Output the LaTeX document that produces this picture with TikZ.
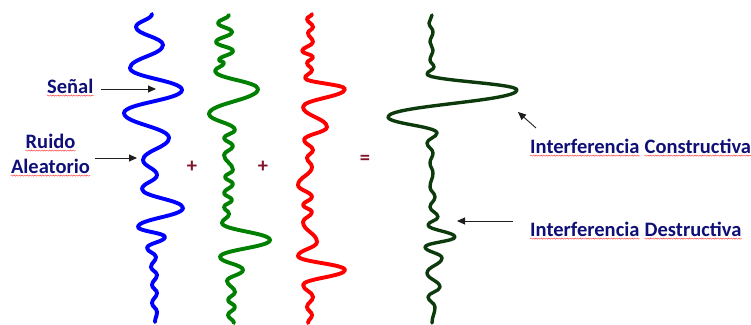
\documentclass[tikz,border=0pt]{standalone}
\usepackage{fontspec}
\setmainfont{Carlito}
\usetikzlibrary{arrows.meta,decorations.pathmorphing}
\definecolor{wblue}{RGB}{0,0,255}
\definecolor{wgreen}{RGB}{0,128,0}
\definecolor{wred}{RGB}{255,0,0}
\definecolor{wdark}{RGB}{12,58,12}
\definecolor{navy}{RGB}{15,15,120}
\definecolor{opcol}{RGB}{130,20,40}
\definecolor{arrcol}{RGB}{30,30,30}
\def\kk{0.42}
\begin{document}
\begin{tikzpicture}[x=1pt,y=-1pt,
  wave/.style={line width=3.9pt, line cap=round, line join=round},
  lbl/.style={font=\fontsize{20.5}{24}\selectfont\bfseries, text=navy, inner sep=0pt},
  op/.style={font=\fontsize{20.5}{24}\selectfont\bfseries, text=opcol, inner sep=0pt},
  arr/.style={draw=arrcol, line width=0.9pt, -{Triangle[length=8pt,width=7pt]}},
  squig/.style={draw=red!75, line width=0.45pt, decorate, decoration={snake, amplitude=0.6pt, segment length=2.6pt}}]
\useasboundingbox (0,0) rectangle (751,324);

% blue wave (signal + noise)
\draw[wave,wblue] (152,14) \foreach \x/\y [remember=\y as \py (initially 14)] in
 {136/27,163/45,130/68,182/90,124/113,169/138,143/160,157/175,142/189,183/208,138/227,165/237,147/248,156/257,151/267,157/275,152/285,157/293,152/303,157/312,155/322}
 { .. controls +(0,{\kk*(\y-\py)}) and +(0,{-\kk*(\y-\py)}) .. (\x,\y) };

% green wave
\draw[wave,wgreen] (229,15) \foreach \x/\y [remember=\y as \py (initially 15)] in
 {218/23,232/32,216/42,233/51,219/60,224/63,215/71,258/89,209/114,235/130,224/138,233/146,224/155,233/170,225/177,233/184,224/193,232/200,224/207,229/214,222/223,270/240,220/257,243/270,227/281,235/292,228/300,235/307,228/315,234/323}
 { .. controls +(0,{\kk*(\y-\py)}) and +(0,{-\kk*(\y-\py)}) .. (\x,\y) };

% red wave
\draw[wave,wred] (312,14) \foreach \x/\y [remember=\y as \py (initially 14)] in
 {307/19,313/27,308/33,313/42,302/51,313/57,307/63,312/70,305/78,345/89,303/107,327/127,304/140,313/150,307/158,312/167,298/185,312/197,303/205,312/212,303/222,317/242,298/256,345/270,303/285,313/297,307/307,312/315,308/323}
 { .. controls +(0,{\kk*(\y-\py)}) and +(0,{-\kk*(\y-\py)}) .. (\x,\y) };

% resulting dark green trace
\draw[wave,wdark,line width=3.4pt] (432,15) \foreach \x/\y [remember=\y as \py (initially 15)] in
 {429/23,433/32,430/42,433/50,430/60,434/67,427/74,517/90,388/117,437/133,427/143,433/153,430/163,433/173,430/187,435/197,430/207,438/217,428/225,455/237,425/247,442/258,427/273,440/287,428/297,435/307,432/323}
 { .. controls +(0,{\kk*(\y-\py)}) and +(0,{-\kk*(\y-\py)}) .. (\x,\y) };

% operators
\node[op] (plus1) at (192,167) {+};
\node[op] (plus2) at (263,167) {+};
\node[op] (eq) at (365,160) {=};

% labels
\node[lbl, anchor=base west] (senal) at (47,93) {Señal};
\node[lbl, anchor=base] (ruido) at (50.5,148) {Ruido};
\node[lbl, anchor=base] (aleat) at (50.5,173) {Aleatorio};
\node[lbl, anchor=base west] (ic1) at (530,153) {Interferencia};
\node[lbl, anchor=base west] (ic2) at ([xshift=4.8pt]ic1.base east) {Constructiva};
\node[lbl, anchor=base west] (id1) at (530,236) {Interferencia};
\node[lbl, anchor=base west] (id2) at ([xshift=4.8pt]id1.base east) {Destructiva};

% spell-check underlines
\foreach \n in {senal,ruido,aleat,ic1,ic2,id1,id2}
  \draw[squig] ([yshift=-2.6pt]\n.base west) -- ([yshift=-2.6pt]\n.base east);

% arrows
\coordinate (sT) at (101,89);  \coordinate (sH) at (156,89);
\coordinate (rT) at (95,158);  \coordinate (rH) at (137,158);
\coordinate (cT) at (536,128); \coordinate (cH) at (518,112);
\coordinate (dT) at (513,221); \coordinate (dH) at (457,221);
\draw[arr] (sT) -- (sH);
\draw[arr] (rT) -- (rH);
\draw[arr] (cT) -- (cH);
\draw[arr] (dT) -- (dH);
\end{tikzpicture}
\end{document}
